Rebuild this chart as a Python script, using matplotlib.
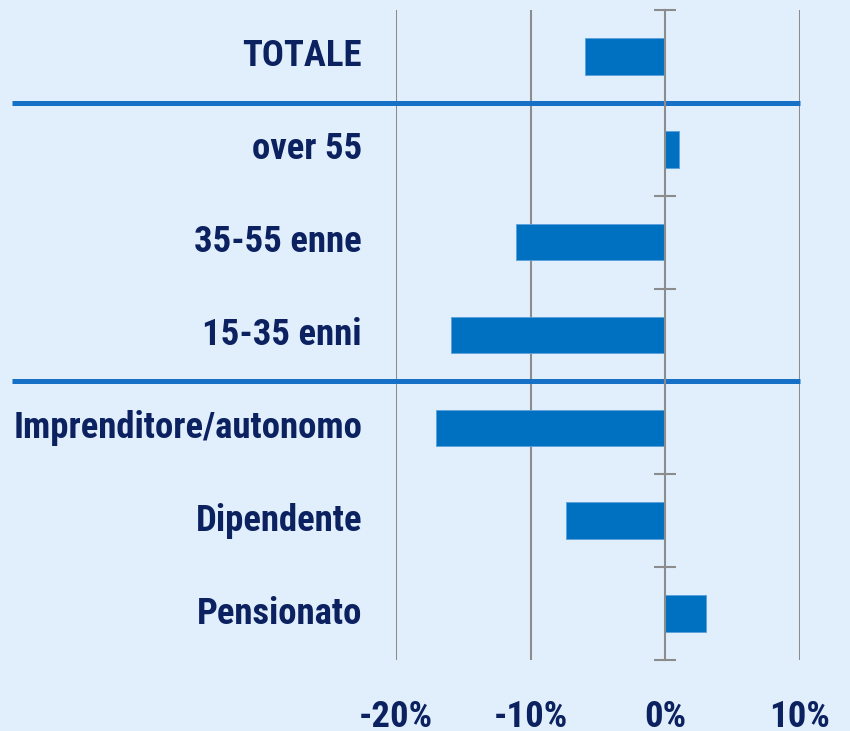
import matplotlib
matplotlib.use("Agg")
import matplotlib.pyplot as plt
import matplotlib.transforms as mtransforms
from matplotlib import font_manager
from matplotlib.font_manager import FontProperties

categories = ["TOTALE", "over 55", "35-55 enne", "15-35 enni",
              "Imprenditore/autonomo", "Dipendente", "Pensionato"]
values = [-6.0, 1.0, -11.1, -15.9, -17.0, -7.4, 3.0]
xticks = [-20, -10, 0, 10]
xtick_labels = ["-20%", "-10%", "0%", "10%"]
separators_after = [0, 3]  # separator lines after these category indices

# ---- choose a condensed bold font if one is installed
entries = font_manager.fontManager.ttflist
def find_font():
    for nm in ["Liberation Sans Narrow", "Arial Narrow", "Roboto Condensed",
               "Open Sans Condensed", "Noto Sans Condensed"]:
        for f in entries:
            if f.name == nm:
                return FontProperties(family=nm, weight="bold"), 26.5
    for f in entries:
        if ("Narrow" in f.name or "Condensed" in f.name):
            return FontProperties(family=f.name, weight="bold"), 26.5
    for f in entries:
        if f.name == "DejaVu Sans" and "condensed" in str(f.stretch) and f.weight in (700, "bold"):
            return FontProperties(family="DejaVu Sans", stretch="condensed", weight="bold"), 23
    return FontProperties(family="Liberation Sans", weight="bold"), 22.5

FP, FS = find_font()
FP.set_size(FS)

BG = "#E1EFFC"
BAR = "#0070C0"
TXT = "#0B2160"
GRID = "#8C8C8C"
SEP = "#1570C6"

W, H = 850, 731
fig = plt.figure(figsize=(W / 100, H / 100), dpi=100, facecolor=BG)
ax = fig.add_axes([396 / W, 1 - 660 / H, (800 - 396) / W, 650 / H])
ax.set_facecolor(BG)

ypos = list(range(len(categories)))
ax.barh(ypos, values, height=0.394, color=BAR, edgecolor="#5AA0DC",
        linewidth=0.6, zorder=3)

ax.set_xlim(-20, 10)
ax.set_ylim(len(categories) - 0.5, -0.5)

for t in xticks:
    if t != 0:
        ax.axvline(t, color=GRID, lw=1.5, zorder=1)

for s in ["top", "right", "bottom"]:
    ax.spines[s].set_visible(False)
ax.spines["left"].set_position(("data", 0))
ax.spines["left"].set_color(GRID)
ax.spines["left"].set_linewidth(1.5)
ax.spines["left"].set_zorder(4)

bounds = [i - 0.5 for i in range(len(categories) + 1)]
ax.set_yticks(bounds, minor=True)
ax.set_yticks(ypos)
ax.set_yticklabels([])
ax.tick_params(axis="y", which="major", length=0)
ax.tick_params(axis="y", which="minor", direction="inout", length=16,
               width=1.5, color=GRID)

ax.set_xticks(xticks)
ax.set_xticklabels(xtick_labels, fontproperties=FP)
ax.tick_params(axis="x", length=0, pad=28, labelcolor=TXT)

trans = mtransforms.blended_transform_factory(ax.transAxes, ax.transData)
xlab = (362 - 396) / (800 - 396)
for i, c in enumerate(categories):
    ax.text(xlab, i, c, transform=trans, ha="right", va="center",
            fontproperties=FP, color=TXT)

x0 = (12 - 396) / (800 - 396)
for i in separators_after:
    ax.plot([x0, 1.0], [i + 0.5, i + 0.5], transform=trans, color=SEP,
            lw=3.6, clip_on=False, zorder=2, solid_capstyle="butt")

fig.savefig("out.png", dpi=100, facecolor=BG)
